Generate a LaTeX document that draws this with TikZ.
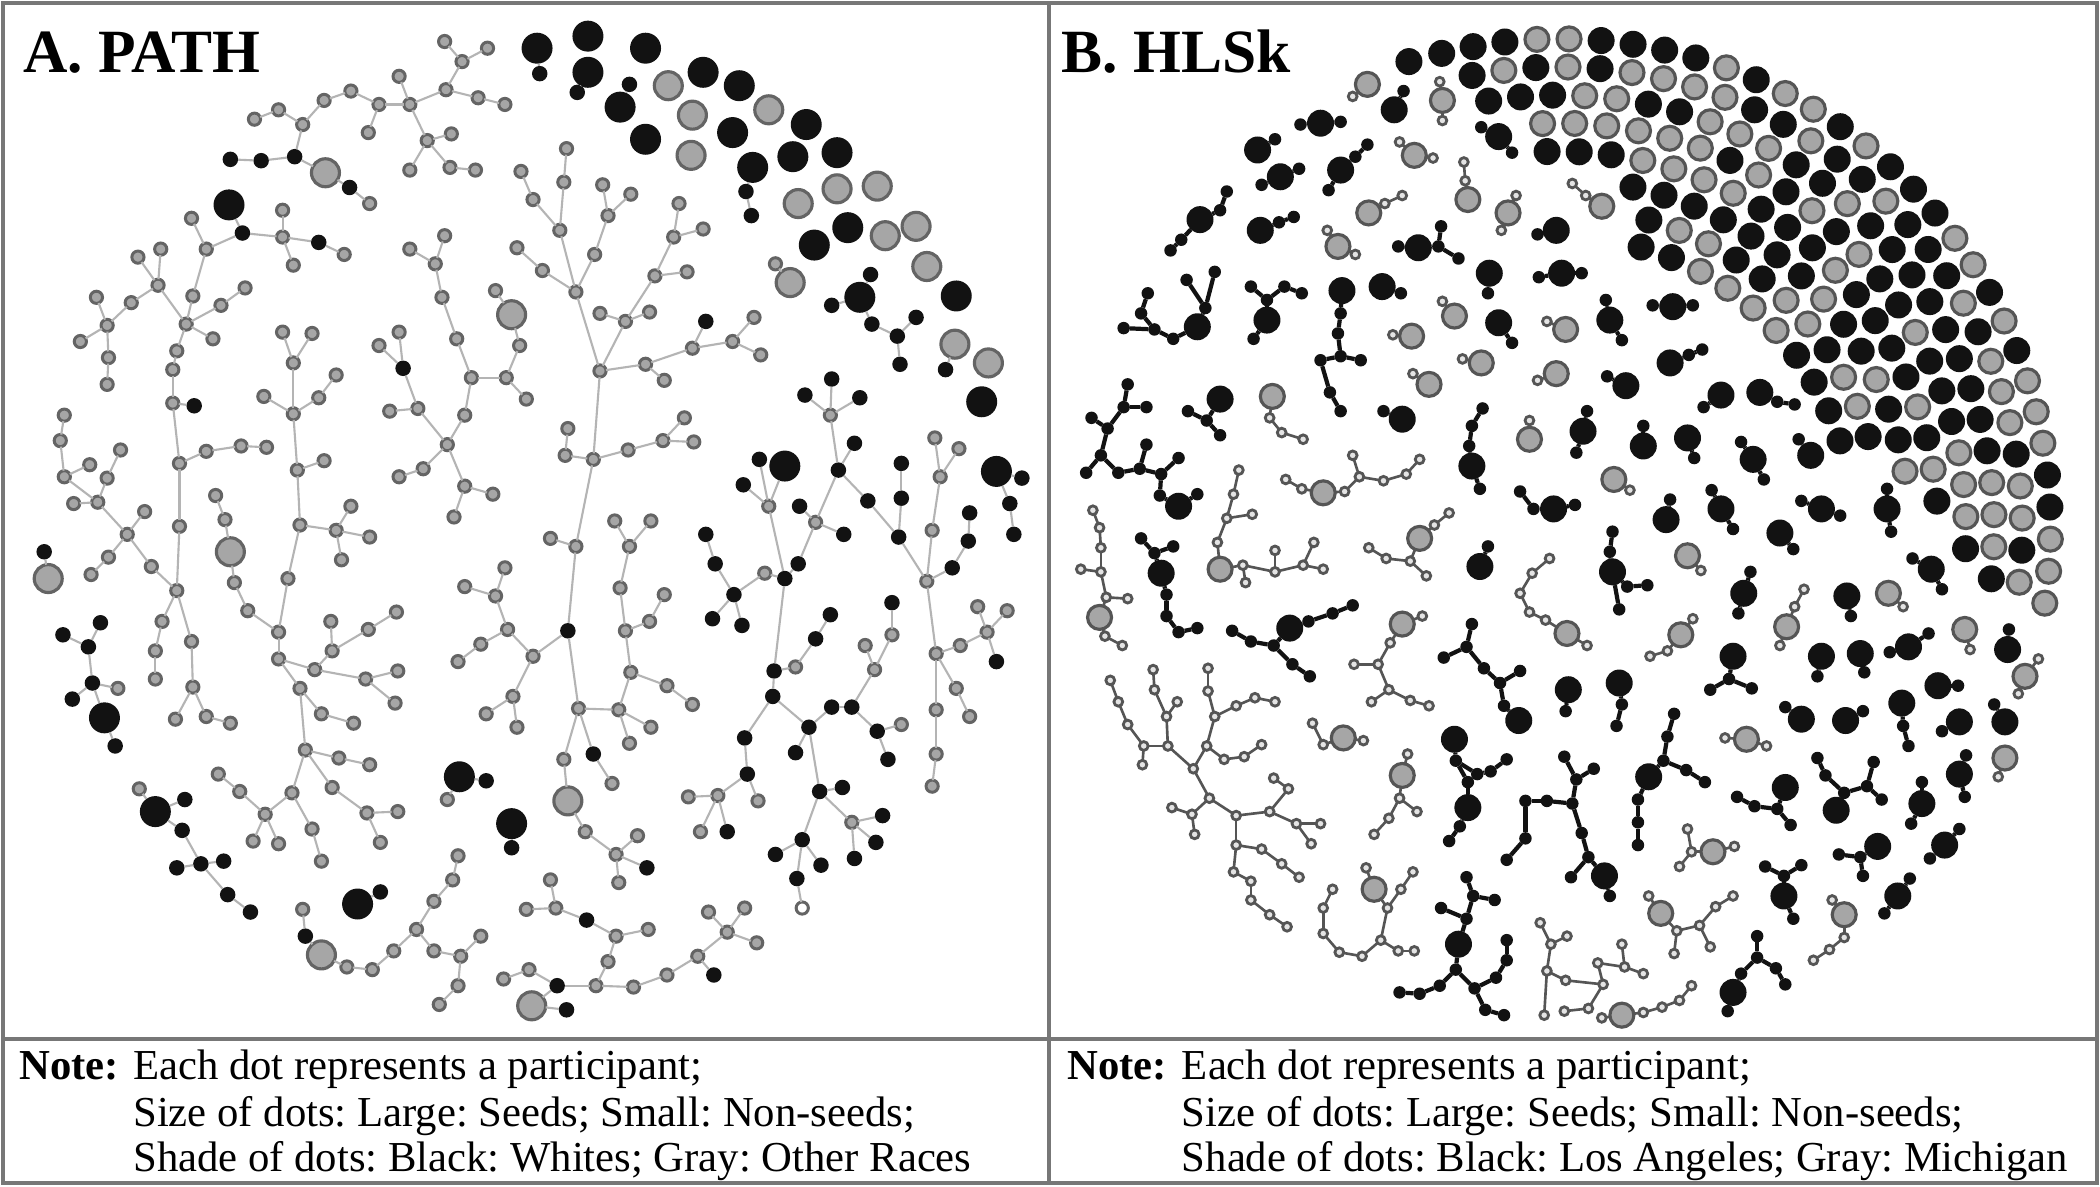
\documentclass[tikz,border=0pt]{standalone}
\usepackage{fontspec}
\setmainfont{Liberation Serif}
\frenchspacing
\definecolor{gin}{HTML}{A6A6A6}
\definecolor{gring}{HTML}{646464}
\definecolor{gringB}{HTML}{555555}
\definecolor{dk}{HTML}{121212}
\definecolor{edgeA}{HTML}{B4B4B4}
\definecolor{hol}{HTML}{E4E4E4}
\definecolor{framec}{HTML}{777777}
\tikzset{
 dotbase/.style={circle, inner sep=0pt, outer sep=0pt},
 ag/.style={dotbase, minimum size=0.122cm, fill=gin, draw=gring, line width=0.85pt},
 ab/.style={dotbase, minimum size=0.155cm, fill=dk},
 aG/.style={dotbase, minimum size=0.28cm, fill=gin, draw=gring, line width=0.9pt},
 aB/.style={dotbase, minimum size=0.31cm, fill=dk},
 aw/.style={dotbase, minimum size=0.122cm, fill=white, draw=gring, line width=0.85pt},
 ea/.style={draw=edgeA, line width=0.6pt},
 BB/.style={dotbase, minimum size=0.27cm, fill=dk},
 BG/.style={dotbase, minimum size=0.24cm, fill=gin, draw=gringB, line width=0.9pt},
 sb/.style={dotbase, minimum size=0.125cm, fill=dk},
 sg/.style={dotbase, minimum size=0.088cm, fill=hol, draw=gringB, line width=0.8pt},
 eb/.style={draw=dk, line width=1.2pt},
 eg/.style={draw=gringB, line width=0.75pt},
 frame/.style={draw=framec, line width=1.1pt},
 ttl/.style={anchor=base west, inner sep=0pt, font=\fontsize{17.5}{20}\selectfont\bfseries},
 nt/.style={anchor=base west, inner sep=0pt, font=\fontsize{12.15}{13}\selectfont},
 ntb/.style={anchor=base west, inner sep=0pt, font=\fontsize{12.15}{13}\selectfont\bfseries},
}
\begin{document}
\begin{tikzpicture}[x=0.013393cm, y=-0.013393cm]
\useasboundingbox (0,0) rectangle (1568,886);
\fill[white] (0,0) rectangle (1568,886);
% ---------------- frame ----------------
\draw[frame] (2.5,2.5) rectangle (1565.5,883.5);
\draw[frame] (783,2.5) -- (783,883.5);
\draw[frame] (2.5,776) -- (1565.5,776);
% ---------------- titles and notes ----------------
\node[ttl] (ta) at (17,54) {A. PATH};
\node[ttl] (tb) at (792,54) {B. HLSk};
\node[ntb] (na) at (14,806) {Note:};
\node[nt] (na1) at (99,806) {Each dot represents a participant;};
\node[nt] (na2) at (99,841) {Size of dots: Large: Seeds; Small: Non-seeds;};
\node[nt] (na3) at (99,875) {Shade of dots: Black: Whites; Gray: Other Races};
\node[ntb] (nb) at (796.5,806) {Note:};
\node[nt] (nb1) at (882,806) {Each dot represents a participant;};
\node[nt] (nb2) at (882,841) {Size of dots: Large: Seeds; Small: Non-seeds;};
\node[nt] (nb3) at (882,875) {Shade of dots: Black: Los Angeles; Gray: Michigan};
% ================= PANEL A =================
\foreach \x/\y in {332/31,364/36,345/46,333/67,298/57,357/73,377/78,306/78,283/78,275/99,319/105,337/100,306/127,336/125,355/127,262/68,242/75,226/93,208/82,190/89,276/152,
211/157,211/177,257/190,219/198,143/163,154/186,144/221,139/242,165/228,183/215,159/253,120/186,103/192,118/213,98/226,72/222,80/243,60/255,81/267,80/287,132/262,129/276,129/301,134/346,134/393,154/337,180/333,199/334,
211/248,233/249,219/271,251/280,238/297,197/296,219/309,222/351,242/344,224/392,251/396,262/378,276/401,161/370,168/388,
332/176,306/186,325/197,330/222,341/253,352/282,378/282,388/258,370/217,393/298,347/310,334/332,298/248,283/258,312/305,291/307,316/350,298/356,347/363,368/369,339/386,
579/197,423/111,421/136,389/128,398/149,418/172,450/138,471/145,454/161,444/190,386/185,405/202,430/218,507/152,503/177,525/171,489/206,513/203,485/233,467/240,448/234,448/277,482/272,496/284,517/260,547/255,563/237,568/265,424/320,422/340,443/343,469/336,495/329,511/312,518/330,459/389,486/389,
620/310,609/390,574/378,594/498,571/428,698/327,716/335,702/356,696/396,692/434,699/488,717/482,737/472,730/453,752/456,714/514,724/535,699/530,699/563,696/587,673/541,666/474,653/500,646/482,536/594,514/595,523/621,566/598,636/614,470/408,463/439,496/444,485/464,467/471,471/502,498/512,517/526,462/530,486/543,470/555,
48/310,45/329,48/356,67/347,80/357,90/336,55/376,73/375,108/382,95/399,81/416,68/429,113/423,132/441,121/464,116/486,116/507,143/479,144/513,131/537,154/535,172/540,88/514,175/435,185/456,208/472,215/432,255/418,208/492,224/514,235/500,248/486,247/464,275/470,296/457,273/507,297/501,295/525,240/533,264/540,228/560,253/566,276/571,248/588,274/607,297/606,284/629,218/592,233/619,240/643,198/608,179/591,163/578,189/628,208/630,104/589,226/679,259/722,278/724,294/710,311/694,324/673,338/657,342/639,324/710,344/714,359/699,342/736,328/750,334/597,377/424,347/438,370/445,379/470,359/481,342/494,398/490,383/520,363/533,386/543,376/731,
411/402,430/408,432/529,421/567,457/585,437/621,460/638,476/624,462/659,411/657,393/679,415/678,460/699,484/694,454/718,395/724,445/736,473/737,498/728,521/714,543/696,529/681,556/678,565/704}
  \node[ag] (a\x-\y) at (\x,\y) {};
\foreach \x/\y in {220/117,195/120,172/119,261/140,181/174,238/181,145/303,301/275,403/55,431/69,470/63,557/143,561/161,650/205,621/228,651/242,670/251,684/237,672/272,706/276,763/357,754/376,757/399,527/240,621/283,601/295,642/297,626/351,638/331,648/374,671/401,673/372,673/346,711/424,723/404,724/383,744/494,567/343,555/362,597/378,630/399,596/421,586/432,548/444,534/421,527/399,532/462,554/467,609/477,620/459,578/501,577/520,556/551,558/578,604/543,621/528,636/528,655/546,663/567,594/562,612/591,629/588,659/609,654/629,638/641,599/627,579/638,613/646,595/656,543/621,666/450,33/412,47/474,75/465,66/483,69/510,54/522,86/557,138/597,136/620,132/648,150/645,167/643,170/668,187/681,228/699,284/666,363/583,382/633,424/471,443/563,483/648,438/687,416/736,533/728,423/754}
  \node[ab] (a\x-\y) at (\x,\y) {};
\foreach \x/\y in {243/129,382/235,499/64,517/86,516/116,574/82,596/152,625/141,655/139,661/176,684/169,692/199,590/211,713/257,738/271,36/432,172/412,240/713,397/751,424/598}
  \node[aG] (a\x-\y) at (\x,\y) {};
\foreach \x/\y in {171/153,401/36,439/27,439/54,463/80,482/36,525/54,552/64,482/104,547/99,602/93,562/125,592/117,625/114,633/170,608/183,642/222,714/221,733/300,744/352,586/348,78/536,116/606,267/675,343/580,382/615}
  \node[aB] (a\x-\y) at (\x,\y) {};
\node[aw] (a599-678) at (599,678) {};
\foreach \p/\q in {332-31/345-46,364-36/345-46,345-46/333-67,333-67/306-78,333-67/357-73,357-73/377-78,306-78/298-57,306-78/283-78,306-78/319-105,319-105/337-100,319-105/336-125,336-125/355-127,319-105/306-127,283-78/275-99,283-78/262-68,262-68/242-75,242-75/226-93,226-93/208-82,208-82/190-89,226-93/220-117,220-117/195-120,195-120/172-119,220-117/243-129,243-129/261-140,261-140/276-152,
181-174/171-153,181-174/211-177,211-177/211-157,211-177/238-181,238-181/257-190,211-177/219-198,181-174/154-186,154-186/143-163,154-186/144-221,144-221/139-242,139-242/165-228,165-228/183-215,139-242/159-253,139-242/132-262,132-262/129-276,129-276/129-301,129-301/145-303,129-301/134-346,134-346/134-393,134-346/154-337,154-337/180-333,180-333/199-334,118-213/139-242,118-213/120-186,118-213/103-192,118-213/98-226,98-226/80-243,80-243/72-222,80-243/60-255,80-243/81-267,81-267/80-287,
211-248/219-271,233-249/219-271,219-271/219-309,197-296/219-309,219-309/238-297,238-297/251-280,219-309/222-351,222-351/242-344,222-351/224-392,224-392/251-396,251-396/276-401,251-396/262-378,161-370/168-388,251-396/255-418,224-392/215-432,
332-176/325-197,306-186/325-197,325-197/330-222,330-222/341-253,341-253/352-282,352-282/347-310,347-310/334-332,352-282/378-282,378-282/388-258,388-258/382-235,382-235/370-217,378-282/393-298,334-332/312-305,312-305/301-275,301-275/298-248,301-275/283-258,312-305/291-307,334-332/316-350,316-350/298-356,334-332/347-363,347-363/368-369,347-363/339-386,
403-55/401-36,431-69/439-54,470-63/463-80,557-143/562-125,557-143/561-161,579-197/590-211,650-205/642-222,621-228/642-222,642-222/651-242,651-242/670-251,670-251/684-237,670-251/672-272,706-276/713-257,744-352/763-357,744-352/754-376,754-376/757-399,
423-111/421-136,421-136/418-172,389-128/398-149,398-149/418-172,418-172/430-218,386-185/405-202,405-202/430-218,430-218/444-190,444-190/454-161,454-161/450-138,454-161/471-145,430-218/448-277,448-277/467-240,467-240/448-234,467-240/485-233,467-240/489-206,489-206/513-203,489-206/503-177,503-177/507-152,503-177/525-171,448-277/482-272,482-272/496-284,482-272/517-260,517-260/527-240,517-260/547-255,547-255/563-237,547-255/568-265,448-277/443-343,443-343/422-340,422-340/424-320,443-343/469-336,469-336/495-329,495-329/511-312,495-329/518-330,443-343/430-408,
620-310/621-283,620-310/601-295,620-310/642-297,620-310/626-351,626-351/609-390,609-390/597-378,609-390/630-399,609-390/596-421,596-421/586-432,626-351/648-374,648-374/671-401,671-401/673-372,673-372/673-346,671-401/692-434,692-434/696-396,696-396/702-356,702-356/698-327,702-356/716-335,692-434/711-424,711-424/723-404,723-404/724-383,692-434/699-488,699-488/717-482,717-482/737-472,737-472/730-453,737-472/752-456,737-472/744-494,699-488/714-514,714-514/724-535,699-488/699-530,699-530/699-563,699-563/696-587,574-378/567-343,574-378/555-362,574-378/586-348,574-378/586-432,586-432/571-428,571-428/548-444,548-444/534-421,534-421/527-399,548-444/532-462,548-444/554-467,586-432/578-501,578-501/594-498,594-498/609-477,609-477/620-459,578-501/577-520,577-520/556-551,556-551/558-578,558-578/536-594,536-594/514-595,536-594/523-621,536-594/543-621,558-578/566-598,577-520/604-543,604-543/594-562,604-543/621-528,621-528/636-528,636-528/655-546,655-546/673-541,655-546/663-567,636-528/653-500,653-500/646-482,653-500/666-474,666-474/666-450,604-543/612-591,612-591/629-588,612-591/636-614,636-614/659-609,636-614/654-629,636-614/638-641,612-591/599-627,599-627/579-638,599-627/613-646,599-627/595-656,595-656/599-678,638-331/626-351,
459-389/470-408,486-389/470-408,470-408/463-439,463-439/467-471,467-471/485-464,485-464/496-444,467-471/471-502,471-502/498-512,498-512/517-526,471-502/462-530,462-530/486-543,462-530/470-555,462-530/432-529,
48-310/45-329,45-329/48-356,48-356/67-347,48-356/73-375,73-375/80-357,80-357/90-336,73-375/55-376,73-375/95-399,95-399/108-382,95-399/81-416,81-416/68-429,95-399/113-423,113-423/132-441,134-393/132-441,132-441/121-464,121-464/116-486,116-486/116-507,132-441/143-479,143-479/144-513,144-513/131-537,144-513/154-535,154-535/172-540,33-412/36-432,47-474/66-483,66-483/75-465,66-483/69-510,69-510/54-522,69-510/88-514,69-510/78-536,78-536/86-557,168-388/172-412,172-412/175-435,175-435/185-456,185-456/208-472,215-432/208-472,208-472/208-492,208-492/235-500,235-500/248-486,248-486/247-464,248-486/275-470,275-470/296-457,235-500/273-507,273-507/297-501,273-507/295-525,208-492/224-514,224-514/240-533,240-533/264-540,224-514/228-560,228-560/253-566,253-566/276-571,228-560/248-588,248-588/274-607,274-607/297-606,274-607/284-629,228-560/218-592,218-592/198-608,198-608/179-591,179-591/163-578,198-608/189-628,198-608/208-630,218-592/233-619,233-619/240-643,104-589/116-606,116-606/138-597,116-606/136-620,136-620/150-645,150-645/132-648,150-645/167-643,150-645/170-668,170-668/187-681,226-679/228-699,228-699/240-713,240-713/259-722,259-722/278-724,278-724/294-710,294-710/311-694,311-694/324-673,324-673/338-657,338-657/342-639,311-694/324-710,324-710/344-714,344-714/359-699,344-714/342-736,342-736/328-750,267-675/284-666,343-580/363-583,343-580/334-597,382-615/382-633,377-424/370-445,347-438/370-445,370-445/379-470,379-470/398-490,379-470/359-481,359-481/342-494,398-490/383-520,383-520/363-533,383-520/386-543,376-731/395-724,
430-408/411-402,430-408/424-471,424-471/398-490,424-471/432-529,432-529/421-567,421-567/424-598,424-598/437-621,437-621/460-638,460-638/476-624,460-638/483-648,460-638/462-659,432-529/443-563,443-563/457-585,411-657/415-678,415-678/393-679,415-678/438-687,438-687/460-699,460-699/484-694,460-699/454-718,454-718/445-736,445-736/416-736,416-736/395-724,416-736/397-751,397-751/423-754,445-736/473-737,473-737/498-728,498-728/521-714,521-714/543-696,543-696/529-681,543-696/556-678,543-696/565-704,521-714/533-728}
  \draw[ea] (a\p) -- (a\q);
% ================= PANEL B =================
% packed crescent of isolated seeds
\pgfmathsetseed{12}
\foreach \r/\au/\al [count=\k] in {366/104/-11,345/101/-9,324/99.5/-8,303/92.5/-6,282/92/0,261/78/8,240/74/11,219/74/12} {
  \pgfmathsetmacro\st{24/\r*57.2958}
  \pgfmathsetmacro\an{\au-\st}
  \foreach \a [count=\j] in {\au,\an,...,\al} {
    \pgfmathrandominteger{\rr}{1}{100}
    \ifnum\rr<56
      \node[BB] (c\k-\j) at ({1165+\r*cos(\a)},{395-\r*sin(\a)}) {};
    \else
      \node[BG] (c\k-\j) at ({1165+\r*cos(\a)},{395-\r*sin(\a)}) {};
    \fi
  }
}
\foreach \x/\y in {1052/46,1041/82,986/92,1119/102,939/112,956/132,1001/127,1162/172,896/164,941/172,1059/185,1112/204,1166/204,1119/241,1032/214,1002/217,946/239,894/244,1202/239,1249/229,1247/271,1214/288,1285/295,1314/293,1047/313,1182/322,1227/333,1260/327,1309/343,1352/340,1099/348,1160/380,1244/388,1285/380,1360/380,1409/380,1329/398,1105/423,1204/427,1302/443,1379/445,1442/425,1360/490,1389/488,1425/483,1499/485,1294/490,1171/515,1209/510,1447/512,880/378,911/298,867/428,963/469,1134/538,1086/552,1096/603,1198/654,1231/580,1089/705,1463/539,1497/539,1463/578,1345/537,1378/538,1420/525,1333/588,1371/605,1435/600,1452/631,1402/632,1332/669,1417/669,1294/741}
  \node[BB] (b\x-\y) at (\x,\y) {};
\foreach \x/\y in {1021/63,1077/75,1056/116,1096/149,1022/159,999/184,1126/159,1196/154,1054/251,1086/236,1169/246,1106/271,1162/279,1067/287,1142/328,1205/358,1060/402,1260/415,1410/443,1170/473,1255/474,1334/468,1467/470,1512/505,950/296,988/368,821/461,911/425,1047/466,1003/551,1047/579,1026/664,1211/758,1497/566,1304/552,1279/636,1377/683,1240/682}
  \node[BG] (b\x-\y) at (\x,\y) {};
\foreach \x/\y in {1048/68,971/93,1001/91,1106/95,1129/114,952/104,942/138,970/126,1012/117,1021/108,992/142,1148/175,911/157,916/143,882/179,874/187,955/166,966/162,1044/184,1074/184,1076/169,1089/193,1111/219,1149/207,1181/204,1129/256,1046/219,1001/234,999/249,1001/266,986/269,1016/269,993/293,1001/307,946/224,959/214,934/214,972/219,936/253,900/230,886/209,907/203,876/253,862/246,852/234,857/219,839/245,1199/224,1211/254,1234/228,1264/228,1261/265,1271/261,
1200/281,1272/304,1327/300,1340/302,1033/307,1185/307,1177/338,1227/318,1265/342,1300/330,1317/358,1343/328,1097/333,1099/318,1107/305,1105/365,1145/380,1135/367,1176/377,1247/373,1278/366,1294/395,1345/374,1374/385,1409/365,1412/397,1339/410,1111/408,1202/412,1204/397,1215/438,1230/437,1209/455,1307/427,1298/458,1382/460,1428/417,1450/440,1357/505,1392/502,1411/487,1440/473,1500/470,1291/507,1277/515,1308/514,1462/512,
842/287,839/304,856/304,827/320,815/312,822/340,811/353,835/353,851/350,856/332,867/354,880/342,866/370,894/369,887/307,901/314,911/325,862/413,852/402,876/408,871/444,871/460,880/472,894/469,977/464,995/458,1010/452,951/482,934/479,920/471,965/496,978/505,
1099/466,1095/483,1078/491,1108/499,1120/510,1135/501,1123/527,1169/531,1211/526,1207/542,1087/568,1103/578,1113/576,1125/567,1096/584,1090/617,1082/628,1168/565,1190/574,1177/582,1174/600,1155/598,1139/598,1139/626,1125/642,1181/622,1186/640,1173/655,1202/669,1242/568,1245/550,1250/533,1259/575,1273/584,1223/597,1223/614,1223/631,
1095/686,1095/655,1100/669,1116/672,1076/678,1087/724,1075/736,1060/742,1045/741,1101/738,1109/754,1123/758,1117/730,1125/717,1125/702,
1450/546,1489/526,1468/564,1467/595,1333/528,1391/531,1421/542,1425/557,1327/604,1310/602,1297/595,1337/616,1377/592,1363/579,1357/566,1394/587,1399/569,1405/597,1435/584,1427/615,1463/619,1441/641,1389/640,1373/638,1391/654,1332/654,1318/647,1345/646,1339/686,1426/656,1407/682,1300/727,1312/715,1312/699,1326/723,1333/735,1290/755}
  \node[sb] (b\x-\y) at (\x,\y) {};
\foreach \x/\y in {1010/72,1075/61,1077/90,1045/106,1070/118,1094/135,1093/121,1034/152,1047/146,991/172,1012/190,1132/146,1121/172,1174/137,1184/146,1040/250,1077/225,1155/240,1092/268,1148/284,1055/279,1142/314,1217/366,1071/392,1082/383,1053/419,1035/417,1022/409,1065/430,1270/426,1421/453,1154/463,1142/457,1135/443,1144/428,1157/417,1185/482,1264/462,1245/486,1232/490,1340/453,1347/440,1329/482,1471/485,1522/492,1507/518,
948/312,957/323,973/328,972/365,960/358,1004/367,1015/356,1010/340,1033/359,1050/354,1060/343,816/381,821/394,822/409,822/427,807/425,826/446,842/447,825/475,838/482,909/405,916/387,921/369,925/351,935/384,928/422,930/435,952/427,973/422,952/411,981/405,988/425,1062/460,1038/480,1029/496,1011/496,1037/515,1053/523,1067/527,1024/524,
1018/553,988/556,980/540,1051/563,1045/596,1058/606,1037/611,1026/623,
829/508,835/524,842/541,854/557,853/571,861/500,862/515,871/535,879/524,872/557,891/574,902/499,902/516,907/535,923/527,937/521,952/524,901/557,914/567,929/565,942/556,903/596,890/608,875/603,892/623,923/609,948/606,962/589,951/581,968/615,986/615,979/630,923/631,942/634,957/645,970/655,921/651,934/658,934/672,948/683,961/692,
995/664,988/678,988/697,1000/711,1017/714,1031/702,1036/678,1046/664,1055/651,1020/648,1044/710,1056/710,
1150/689,1158/705,1155/725,1153/758,1170/699,1169/732,1168/755,1186/753,1197/735,1193/719,1211/705,1213/722,1227/727,1196/760,1227/756,1241/752,1254/747,1263/736,
1492/580,1288/551,1319/557,1295/632,1263/636,1260/619,1254/647,1368/672,1377/700,1366/709,1354/717,1231/669,1252/695,1250/712,1269/691,1277/707,1281/677,1294/669}
  \node[sg] (b\x-\y) at (\x,\y) {};
\foreach \p/\q in {1041-82/1048-68,986-92/971-93,986-92/1001-91,1119-102/1106-95,1119-102/1129-114,939-112/952-104,956-132/942-138,956-132/970-126,1001-127/1012-117,1012-117/1021-108,1001-127/992-142,1162-172/1148-175,896-164/911-157,911-157/916-143,896-164/882-179,882-179/874-187,941-172/955-166,955-166/966-162,1059-185/1044-184,1059-185/1074-184,1074-184/1076-169,1074-184/1089-193,1112-204/1111-219,1166-204/1149-207,1166-204/1181-204,1119-241/1129-256,1032-214/1046-219,1002-217/1001-234,1001-234/999-249,999-249/1001-266,1001-266/986-269,1001-266/1016-269,986-269/993-293,993-293/1001-307,946-239/946-224,946-224/959-214,946-224/934-214,959-214/972-219,946-239/936-253,894-244/900-230,900-230/886-209,900-230/907-203,894-244/876-253,876-253/862-246,862-246/852-234,852-234/857-219,862-246/839-245,1202-239/1199-224,1202-239/1211-254,1249-229/1234-228,1249-229/1264-228,1247-271/1261-265,1261-265/1271-261,
1214-288/1200-281,1285-295/1272-304,1314-293/1327-300,1327-300/1340-302,1047-313/1033-307,1182-322/1185-307,1182-322/1177-338,1227-333/1227-318,1260-327/1265-342,1309-343/1300-330,1309-343/1317-358,1352-340/1343-328,1099-348/1097-333,1097-333/1099-318,1099-318/1107-305,1099-348/1105-365,1160-380/1145-380,1145-380/1135-367,1160-380/1176-377,1244-388/1247-373,1285-380/1278-366,1285-380/1294-395,1360-380/1345-374,1360-380/1374-385,1409-380/1409-365,1409-380/1412-397,1329-398/1339-410,1105-423/1111-408,1204-427/1202-412,1202-412/1204-397,1204-427/1215-438,1215-438/1230-437,1204-427/1209-455,1302-443/1307-427,1302-443/1298-458,1379-445/1382-460,1442-425/1428-417,1442-425/1450-440,1360-490/1357-505,1389-488/1392-502,1425-483/1411-487,1425-483/1440-473,1499-485/1500-470,1294-490/1291-507,1291-507/1277-515,1291-507/1308-514,1447-512/1462-512,
842-287/839-304,839-304/856-304,839-304/827-320,827-320/815-312,827-320/822-340,822-340/811-353,822-340/835-353,835-353/851-350,851-350/856-332,851-350/867-354,867-354/880-342,867-354/866-370,866-370/880-378,880-378/894-369,911-298/901-314,901-314/887-307,901-314/911-325,867-428/862-413,862-413/852-402,862-413/876-408,867-428/871-444,871-444/871-460,871-460/880-472,880-472/894-469,963-469/977-464,977-464/995-458,995-458/1010-452,963-469/951-482,951-482/934-479,934-479/920-471,951-482/965-496,965-496/978-505,
1099-466/1095-483,1095-483/1078-491,1095-483/1108-499,1108-499/1120-510,1120-510/1135-501,1120-510/1123-527,1123-527/1134-538,1171-515/1169-531,1209-510/1211-526,1211-526/1207-542,1086-552/1087-568,1087-568/1103-578,1103-578/1113-576,1113-576/1125-567,1087-568/1096-584,1096-584/1096-603,1096-603/1090-617,1090-617/1082-628,1168-565/1177-582,1190-574/1177-582,1177-582/1174-600,1174-600/1155-598,1155-598/1139-598,1139-598/1139-626,1139-626/1125-642,1174-600/1181-622,1181-622/1186-640,1186-640/1198-654,1186-640/1173-655,1198-654/1202-669,1231-580/1242-568,1242-568/1245-550,1245-550/1250-533,1242-568/1259-575,1259-575/1273-584,1231-580/1223-597,1223-597/1223-614,1223-614/1223-631,
1089-705/1095-686,1095-686/1100-669,1100-669/1095-655,1100-669/1116-672,1095-686/1076-678,1089-705/1087-724,1087-724/1075-736,1075-736/1060-742,1060-742/1045-741,1087-724/1101-738,1101-738/1109-754,1109-754/1123-758,1101-738/1117-730,1117-730/1125-717,1125-717/1125-702,
1463-539/1450-546,1497-539/1489-526,1463-578/1468-564,1463-578/1467-595,1345-537/1333-528,1378-538/1391-531,1420-525/1421-542,1421-542/1425-557,1333-588/1327-604,1327-604/1310-602,1310-602/1297-595,1327-604/1337-616,1371-605/1377-592,1377-592/1363-579,1363-579/1357-566,1377-592/1394-587,1394-587/1399-569,1394-587/1405-597,1435-600/1435-584,1435-600/1427-615,1452-631/1463-619,1452-631/1441-641,1402-632/1389-640,1389-640/1373-638,1389-640/1391-654,1332-669/1332-654,1332-654/1318-647,1332-654/1345-646,1332-669/1339-686,1417-669/1426-656,1417-669/1407-682,1294-741/1300-727,1300-727/1312-715,1312-715/1312-699,1312-715/1326-723,1326-723/1333-735,1294-741/1290-755}
  \draw[eb] (b\p) -- (b\q);
\foreach \p/\q in {1021-63/1010-72,1077-75/1075-61,1077-75/1077-90,1056-116/1045-106,1056-116/1070-118,1096-149/1094-135,1094-135/1093-121,1022-159/1034-152,1034-152/1047-146,999-184/991-172,999-184/1012-190,1126-159/1132-146,1126-159/1121-172,1196-154/1184-146,1184-146/1174-137,1054-251/1040-250,1086-236/1077-225,1169-246/1155-240,1106-271/1092-268,1162-279/1148-284,1067-287/1055-279,1142-328/1142-314,1205-358/1217-366,1060-402/1071-392,1071-392/1082-383,1060-402/1053-419,1053-419/1035-417,1035-417/1022-409,1053-419/1065-430,1260-415/1270-426,1410-443/1421-453,1170-473/1154-463,1154-463/1142-457,1142-457/1135-443,1135-443/1144-428,1144-428/1157-417,1170-473/1185-482,1255-474/1264-462,1255-474/1245-486,1245-486/1232-490,1334-468/1340-453,1340-453/1347-440,1334-468/1329-482,1467-470/1471-485,1512-505/1522-492,1512-505/1507-518,
950-296/948-312,948-312/957-323,957-323/973-328,988-368/972-365,972-365/960-358,988-368/1004-367,1004-367/1015-356,1015-356/1010-340,1015-356/1033-359,1033-359/1050-354,1050-354/1060-343,816-381/821-394,821-394/822-409,822-409/822-427,822-427/807-425,822-427/826-446,826-446/842-447,826-446/821-461,821-461/825-475,825-475/838-482,911-425/909-405,909-405/916-387,916-387/921-369,921-369/925-351,916-387/935-384,911-425/928-422,928-422/930-435,928-422/952-427,952-427/973-422,952-427/952-411,973-422/981-405,973-422/988-425,1047-466/1062-460,1047-466/1038-480,1038-480/1029-496,1029-496/1011-496,1029-496/1037-515,1037-515/1053-523,1053-523/1067-527,1037-515/1024-524,
1003-551/1018-553,1003-551/988-556,988-556/980-540,1047-579/1051-563,1047-579/1045-596,1045-596/1058-606,1045-596/1037-611,1037-611/1026-623,
829-508/835-524,835-524/842-541,842-541/854-557,854-557/872-557,872-557/891-574,891-574/903-596,903-596/923-609,923-609/948-606,948-606/968-615,968-615/986-615,854-557/853-571,861-500/862-515,862-515/871-535,871-535/872-557,871-535/879-524,902-499/902-516,902-516/907-535,907-535/901-557,901-557/891-574,907-535/923-527,923-527/937-521,937-521/952-524,901-557/914-567,914-567/929-565,929-565/942-556,903-596/890-608,890-608/875-603,890-608/892-623,948-606/962-589,962-589/951-581,968-615/979-630,923-609/923-631,923-631/942-634,942-634/957-645,957-645/970-655,923-631/921-651,921-651/934-658,934-658/934-672,934-672/948-683,948-683/961-692,
1026-664/1020-648,1026-664/1036-678,1036-678/1046-664,1046-664/1055-651,1036-678/1031-702,1031-702/1044-710,1044-710/1056-710,1031-702/1017-714,1017-714/1000-711,1000-711/988-697,988-697/988-678,988-678/995-664,
1150-689/1158-705,1170-699/1158-705,1158-705/1155-725,1155-725/1169-732,1155-725/1153-758,1169-732/1197-735,1197-735/1193-719,1193-719/1213-722,1213-722/1211-705,1213-722/1227-727,1197-735/1186-753,1186-753/1168-755,1211-758/1196-760,1211-758/1227-756,1227-756/1241-752,1241-752/1254-747,1254-747/1263-736,
1497-566/1492-580,1304-552/1288-551,1304-552/1319-557,1279-636/1295-632,1279-636/1263-636,1263-636/1260-619,1263-636/1254-647,1377-683/1368-672,1377-683/1377-700,1377-700/1366-709,1366-709/1354-717,1240-682/1231-669,1240-682/1252-695,1252-695/1250-712,1252-695/1269-691,1269-691/1277-707,1269-691/1281-677,1281-677/1294-669}
  \draw[eg] (b\p) -- (b\q);
\end{tikzpicture}
\end{document}
